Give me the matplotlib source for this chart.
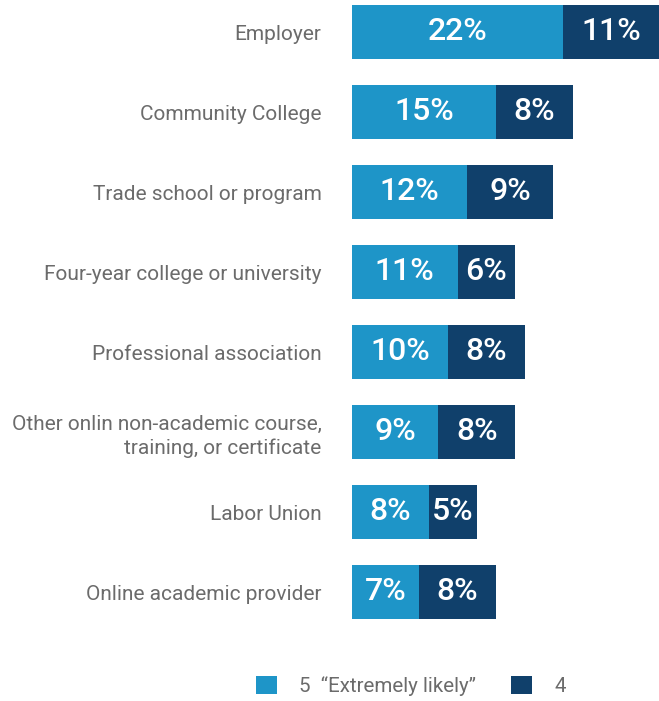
import matplotlib
matplotlib.use("Agg")
import matplotlib.pyplot as plt
from matplotlib.patches import Patch

categories = [
    "Employer",
    "Community College",
    "Trade school or program",
    "Four-year college or university",
    "Professional association",
    "Other onlin non-academic course,\ntraining, or certificate",
    "Labor Union",
    "Online academic provider",
]
extremely_likely = [22, 15, 12, 11, 10, 9, 8, 7]
likely = [11, 8, 9, 6, 8, 8, 5, 8]
series_names = ["5  \u201cExtremely likely\u201d", "4"]

LIGHT = "#1e95c8"
DARK = "#10406b"
GREY = "#6b6b6b"

plt.rcParams["font.family"] = ["Roboto", "DejaVu Sans"]

W, H = 659, 701
fig = plt.figure(figsize=(W / 100, H / 100), dpi=100)
ax = fig.add_axes([352 / W, 1 - 640 / H, 1 - 352 / W, 640 / H])

XMAX = 32
ax.set_xlim(0, XMAX)
ax.set_ylim(7.6, -0.4)

y = list(range(len(categories)))
h = 0.675
ax.barh(y, extremely_likely, height=h, color=LIGHT, linewidth=0)
ax.barh(y, likely, left=extremely_likely, height=h, color=DARK, linewidth=0)

for i, (a, b) in enumerate(zip(extremely_likely, likely)):
    ax.text(a / 2, i, f"{a}%", ha="center", va="center", color="white",
            fontsize=23, fontweight="medium")
    right = min(a + b, XMAX)
    ax.text((a + right) / 2, i, f"{b}%", ha="center", va="center", color="white",
            fontsize=23, fontweight="medium")

ax.set_yticks(y)
ax.set_yticklabels(categories, fontsize=15, color=GREY, ha="right",
                   linespacing=1.3)
ax.tick_params(axis="y", length=0, pad=22)
ax.set_xticks([])
for s in ax.spines.values():
    s.set_visible(False)

handles = [Patch(facecolor=LIGHT, edgecolor="none"),
           Patch(facecolor=DARK, edgecolor="none")]
fig.legend(handles, series_names, loc="center", ncol=2,
           bbox_to_anchor=(411 / W, 1 - 686 / H), frameon=False,
           fontsize=14.8, labelcolor=GREY, handlelength=1.0, handleheight=1.0,
           handletextpad=1.1, columnspacing=1.7)

fig.savefig("out.png", dpi=100)
